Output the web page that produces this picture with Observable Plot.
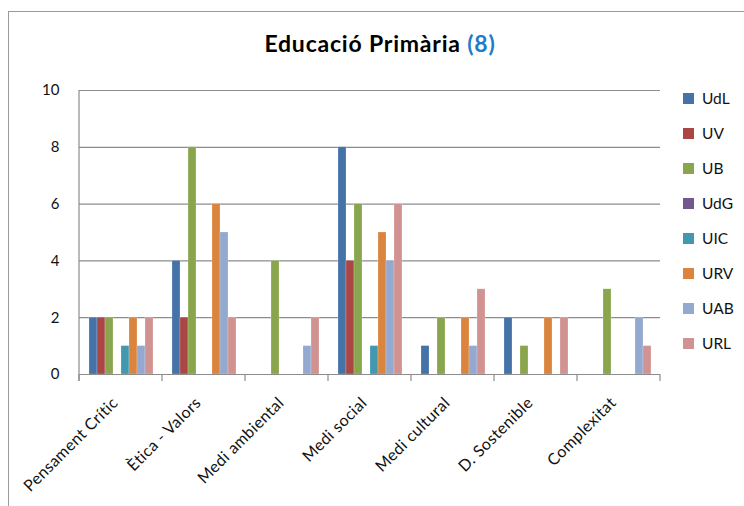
<!DOCTYPE html>
<html>
<head>
<meta charset="utf-8">
<script src="https://cdn.jsdelivr.net/npm/d3@7"></script>
<script src="https://cdn.jsdelivr.net/npm/@observablehq/plot@0.6"></script>
<style>
  html, body { margin: 0; padding: 0; background: #fff; }
  #wrap { position: relative; width: 744px; height: 506px; overflow: hidden; font-family: Lato, "Open Sans", sans-serif; }
  #border { position: absolute; left: 8px; top: 11px; width: 800px; height: 600px; border: 1.5px solid #9a9a9a; box-sizing: border-box; }
  #title { position: absolute; left: 0; width: 760px; top: 29px; text-align: center; font-size: 23px; letter-spacing: 0.8px; font-weight: bold; color: #000; }
  #title span { color: #1f7bc8; }
  #legend { position: absolute; left: 683px; top: 0; }
  .li { position: absolute; left: 0; display: flex; align-items: center; white-space: nowrap; font-size: 15.5px; color: #111; }
  .sw { width: 11px; height: 11px; margin-right: 8px; }
  #chart { position: absolute; left: 0; top: 0; }
</style>
</head>
<body>
<div id="wrap">
  <div id="border"></div>
  <div id="chart"></div>
  <div id="title">Educació Primària <span>(8)</span></div>
  <div id="legend"></div>
</div>
<script>
const categories = ["Pensament Crític", "Ètica - Valors", "Medi ambiental", "Medi social", "Medi cultural", "D. Sostenible", "Complexitat"];
const series = ["UdL", "UV", "UB", "UdG", "UIC", "URV", "UAB", "URL"];
const colors = ["#4572A7", "#AA4643", "#89A54E", "#71588F", "#4198AF", "#DB843D", "#93A9CF", "#D19392"];
const UdL = [2, 4, 0, 8, 1, 2, 0];
const UV  = [2, 2, 0, 4, 0, 0, 0];
const UB  = [2, 8, 4, 6, 2, 1, 3];
const UdG = [0, 0, 0, 0, 0, 0, 0];
const UIC = [1, 0, 0, 1, 0, 0, 0];
const URV = [2, 6, 0, 5, 2, 2, 0];
const UAB = [1, 5, 1, 4, 1, 0, 2];
const URL = [2, 2, 2, 6, 3, 2, 1];
const yTicks = [0, 2, 4, 6, 8, 10];

const values = {UdL, UV, UB, UdG, UIC, URV, UAB, URL};
const data = [];
categories.forEach((c, i) => series.forEach(s => data.push({cat: c, series: s, value: values[s][i]})));

const plot = Plot.plot({
  width: 744,
  height: 506,
  marginLeft: 78,
  marginRight: 84,
  marginTop: 90,
  marginBottom: 132,
  style: {fontSize: "15px", fontFamily: "Lato, 'Open Sans', sans-serif", color: "#111", background: "transparent"},
  facet: {data, x: "cat"},
  fx: {domain: categories, padding: 0, label: null, tickSize: 0, tickPadding: 20, tickRotate: -45},
  x: {domain: series, paddingInner: 0, paddingOuter: 0.9, axis: null},
  y: {domain: [0, 10], ticks: yTicks, tickSize: 0, tickPadding: 20, label: null},
  color: {domain: series, range: colors},
  marks: [
    Plot.ruleY(yTicks, {stroke: "#8c8c8c", strokeWidth: 1.2}),
    Plot.barY(data, {x: "series", y: "value", fill: "series", stroke: "#ffffff", strokeOpacity: 0.35, strokeWidth: 0.6}),
    Plot.ruleY([0], {stroke: "#8c8c8c", strokeWidth: 1.2})
  ]
});
document.getElementById("chart").appendChild(plot);

const svg = d3.select(plot);
svg.selectAll('[aria-label^="fx-axis"] text')
  .style("font-size", "16px").style("letter-spacing", "0.4px").attr("dx", "-8");

// axis line and group boundary ticks from the library's scales
const fx = plot.scale("fx");
const ys = plot.scale("y");
const y0 = ys.apply(0), y10 = ys.apply(10);
const bounds = fx.domain.map(d => fx.apply(d));
bounds.push(fx.apply(fx.domain[fx.domain.length - 1]) + fx.step);
const g = svg.append("g").attr("stroke", "#8c8c8c").attr("stroke-width", 1.2);
g.append("line").attr("x1", bounds[0]).attr("x2", bounds[0]).attr("y1", y10).attr("y2", y0 + 7);
bounds.forEach(b => g.append("line").attr("x1", b).attr("x2", b).attr("y1", y0).attr("y2", y0 + 7));

// legend
const leg = document.getElementById("legend");
series.forEach((s, i) => {
  const d = document.createElement("div");
  d.className = "li";
  d.style.top = (89 + i * 35) + "px";
  d.innerHTML = `<div class="sw" style="background:${colors[i]}"></div>${s}`;
  leg.appendChild(d);
});
</script>
</body>
</html>
